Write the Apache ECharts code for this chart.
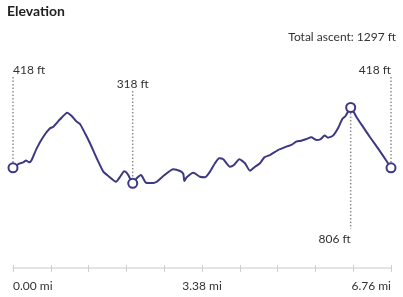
<!DOCTYPE html>
<html>
<head>
<meta charset="utf-8">
<script src="https://cdn.jsdelivr.net/npm/echarts@6/dist/echarts.min.js"></script>
<style>
html,body{margin:0;padding:0;background:#fff;}
#chart{width:403px;height:297px;}
</style>
</head>
<body>
<div id="chart"></div>
<script>
// distance along route (mi)
var distances = [0,0.095,0.184,0.232,0.292,0.334,0.424,0.542,0.662,0.721,0.841,0.971,1.050,1.139,1.198,1.288,1.377,1.497,1.615,1.704,1.842,1.914,1.990,2.062,2.141,2.212,2.289,2.379,2.509,2.570,2.688,2.867,2.987,3.046,3.064,3.107,3.224,3.344,3.434,3.523,3.612,3.689,3.761,3.880,3.952,4.047,4.149,4.238,4.328,4.417,4.494,4.596,4.739,4.888,4.977,5.067,5.156,5.245,5.335,5.424,5.496,5.574,5.633,5.723,5.812,5.889,5.950,6.039,6.139,6.259,6.379,6.528,6.647,6.76];
// elevation (ft)
var elevations = [418,442,453,464,453,468,543,618,672,682,730,773,751,715,700,640,576,479,393,365,328,360,395,371,318,350,371,322,320,328,365,408,397,378,333,357,386,360,357,393,447,479,473,425,436,473,447,399,425,447,485,500,532,554,565,586,592,603,614,597,601,625,612,625,672,732,753,806,747,682,618,543,479,418];
// highlighted points
var markerDist = [0, 2.141, 6.039, 6.76];
var markerElev = [418, 318, 806, 418];
var markerLabels = ['418 ft', '318 ft', '806 ft', '418 ft'];
// axis tick labels
var tickLabels = ['0.00 mi','','','','','3.38 mi','','','','','6.76 mi'];
var titleText = 'Elevation';
var ascentText = 'Total ascent: 1297 ft';

var LINE = '#3d3882';
var FONT = 'Lato, "Open Sans", sans-serif';
var chart = echarts.init(document.getElementById('chart'), null, {renderer: 'canvas'});

var markerData = markerDist.map(function (d, i) { return [d, markerElev[i], i]; });
// per-marker label layout
var labelLayout = [
  {ly: 70, align: 'left', lineTo: 77, up: true},
  {ly: 84, align: 'center', lineTo: 91, up: true},
  {ly: 239, align: 'right', lineTo: 229, up: false},
  {ly: 70, align: 'right', lineTo: 77, up: true}
];

chart.setOption({
  animation: false,
  title: [
    {text: titleText, left: 7, top: 4, padding: 0, textStyle: {fontSize: 14, fontWeight: 'bold', color: '#222', fontFamily: FONT}},
    {text: ascentText, right: 7, top: 31, padding: 0, textStyle: {fontSize: 12, fontWeight: 'normal', color: '#333', fontFamily: FONT}}
  ],
  grid: [
    {left: 13, right: 12, top: 107.5, bottom: 113.7},
    {left: 13, right: 12, top: 268, height: 0}
  ],
  xAxis: [
    {gridIndex: 0, type: 'value', min: 0, max: 6.76, show: false},
    {gridIndex: 1, type: 'value', min: 0, max: 6.76, interval: 0.676, position: 'bottom',
      axisLine: {show: true, lineStyle: {color: '#dcdcdc', width: 1.5}},
      axisTick: {show: true, length: 4, lineStyle: {color: '#cfcfcf', width: 1}},
      splitLine: {show: false},
      axisLabel: {show: true, margin: 12, color: '#333', fontSize: 12, fontFamily: FONT,
        alignMinLabel: 'left', alignMaxLabel: 'right', showMinLabel: true, showMaxLabel: true,
        formatter: function (v) { var k = Math.round(v / 0.676); return tickLabels[k] || ''; }}
    },
    {gridIndex: 1, type: 'value', min: 0, max: 6.76, interval: 0.676, position: 'top',
      axisLine: {show: false},
      axisTick: {show: true, length: 3, lineStyle: {color: '#cfcfcf', width: 1}},
      splitLine: {show: false}, axisLabel: {show: false}
    }
  ],
  yAxis: [
    {gridIndex: 0, type: 'value', min: 318, max: 806, show: false},
    {gridIndex: 1, type: 'value', show: false}
  ],
  series: [
    {
      type: 'line', xAxisIndex: 0, yAxisIndex: 0,
      data: distances.map(function (d, i) { return [d, elevations[i]]; }),
      showSymbol: false, smooth: 0.2,
      lineStyle: {color: LINE, width: 2},
      z: 2
    },
    {
      type: 'custom', xAxisIndex: 0, yAxisIndex: 0, z: 5,
      data: markerData,
      renderItem: function (params, api) {
        var i = api.value(2);
        var p = api.coord([api.value(0), api.value(1)]);
        var L = labelLayout[i];
        var r = 4.5;
        var y1 = L.up ? L.lineTo : p[1] + r + 1;
        var y2 = L.up ? p[1] - r - 1 : L.lineTo;
        return {
          type: 'group',
          children: [
            {type: 'line', shape: {x1: p[0], y1: y1, x2: p[0], y2: y2},
              style: {stroke: '#8f8f8f', lineWidth: 1.5, lineDash: [1.5, 2]}},
            {type: 'circle', shape: {cx: p[0], cy: p[1], r: r},
              style: {fill: '#fff', stroke: LINE, lineWidth: 2}},
            {type: 'text', x: p[0], y: L.ly,
              style: {text: markerLabels[i], fill: '#333', font: '12px ' + FONT, align: L.align, verticalAlign: 'middle'}}
          ]
        };
      }
    }
  ]
});
</script>
</body>
</html>
